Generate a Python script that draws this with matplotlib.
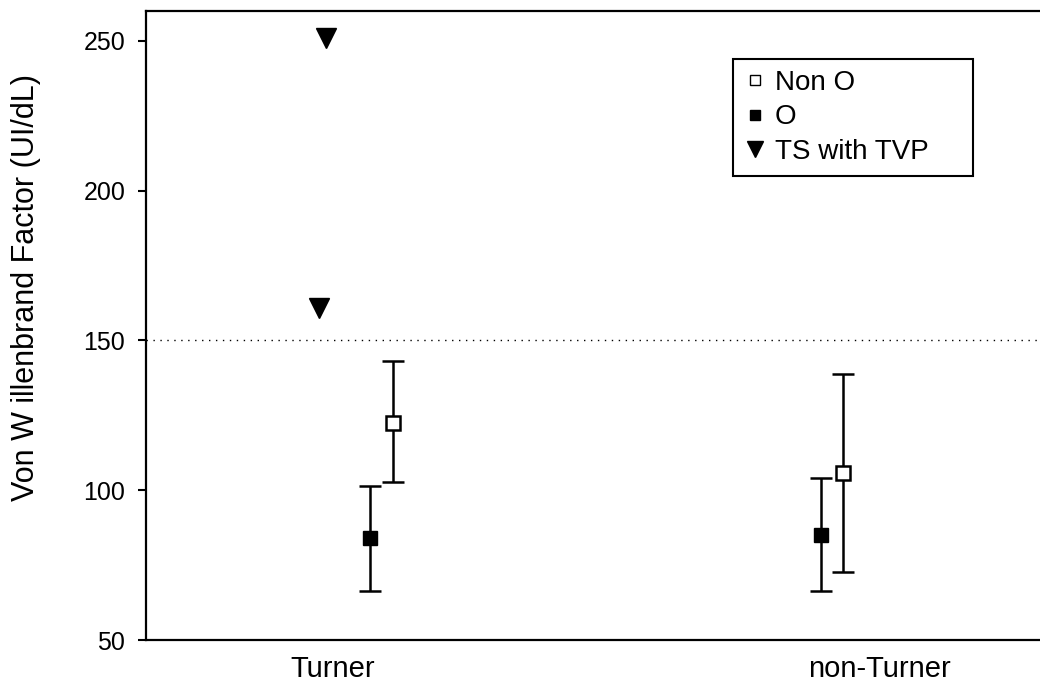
import numpy as np
import matplotlib.pyplot as plt
from matplotlib.lines import Line2D

plt.rcParams['font.family'] = ['Liberation Sans', 'DejaVu Sans']

# values
groups = ["Turner", "non-Turner"]
non_o_mean = [122.5, 105.7]
non_o_low = [102.9, 72.6]
non_o_high = [143.3, 138.8]
o_mean = [84.0, 85.0]
o_low = [66.4, 66.4]
o_high = [101.5, 104.0]
tvp_values = [251.0, 161.0]   # Turner patients with TVP
reference_level = 150

fig = plt.figure(figsize=(10.4, 6.86), dpi=100)
ax = fig.add_axes([146 / 1040, 46 / 686, 1 - 146 / 1040, 629 / 686])

xpos = np.arange(1, len(groups) + 1)
o_x = xpos + np.array([0.068, -0.108])
non_o_x = xpos + np.array([0.110, -0.068])
tvp_x = [0.987, 0.974]

# error bars with caps
o_mean_a = np.array(o_mean)
ax.errorbar(o_x, o_mean, yerr=[o_mean_a - np.array(o_low), np.array(o_high) - o_mean_a],
            fmt='s', color='black', mfc='black', mec='black', ms=10.5,
            elinewidth=1.8, capsize=8, capthick=1.8, zorder=3)
non_o_mean_a = np.array(non_o_mean)
ax.errorbar(non_o_x, non_o_mean,
            yerr=[non_o_mean_a - np.array(non_o_low), np.array(non_o_high) - non_o_mean_a],
            fmt='s', color='black', mfc='white', mec='black', mew=1.8, ms=10,
            elinewidth=1.8, capsize=8, capthick=1.8, zorder=3)
ax.plot(tvp_x, tvp_values, 'v', color='black', ms=15, zorder=3)

ax.axhline(reference_level, color='black', lw=1, ls=(0, (1, 4)), zorder=1)

ax.set_xlim(0.658, 2.293)
ax.set_ylim(50, 260)
ax.set_yticks([50, 100, 150, 200, 250])
ax.set_xticks(xpos)
ax.set_xticklabels(groups, fontsize=21)
ax.tick_params(axis='x', length=0, pad=11)
ax.tick_params(axis='y', direction='out', length=6, width=1.5, labelsize=18, pad=9)

ax.spines['right'].set_visible(False)
for s in ['left', 'bottom', 'top']:
    ax.spines[s].set_linewidth(1.6)

ax.set_ylabel("Von W illenbrand Factor (UI/dL)", fontsize=22)
ax.yaxis.set_label_coords(-0.118, 0.56)

handles = [
    Line2D([], [], ls='none', marker='s', mfc='white', mec='black', mew=1, ms=7),
    Line2D([], [], ls='none', marker='s', mfc='black', mec='black', ms=7),
    Line2D([], [], ls='none', marker='v', color='black', ms=12),
]
leg = ax.legend(handles, ["Non O", "O", "TS with TVP"],
                bbox_to_anchor=(733 / 1040, (686 - 179) / 686, 240 / 1040, 120 / 686),
                bbox_transform=fig.transFigure, loc='upper left', mode='expand',
                fontsize=20, frameon=True, fancybox=False, edgecolor='black',
                framealpha=1, borderpad=0.4, labelspacing=0.3,
                handlelength=0.8, handletextpad=0.3, borderaxespad=0)
leg.get_frame().set_linewidth(1.5)

fig.savefig("out.png", dpi=100)
